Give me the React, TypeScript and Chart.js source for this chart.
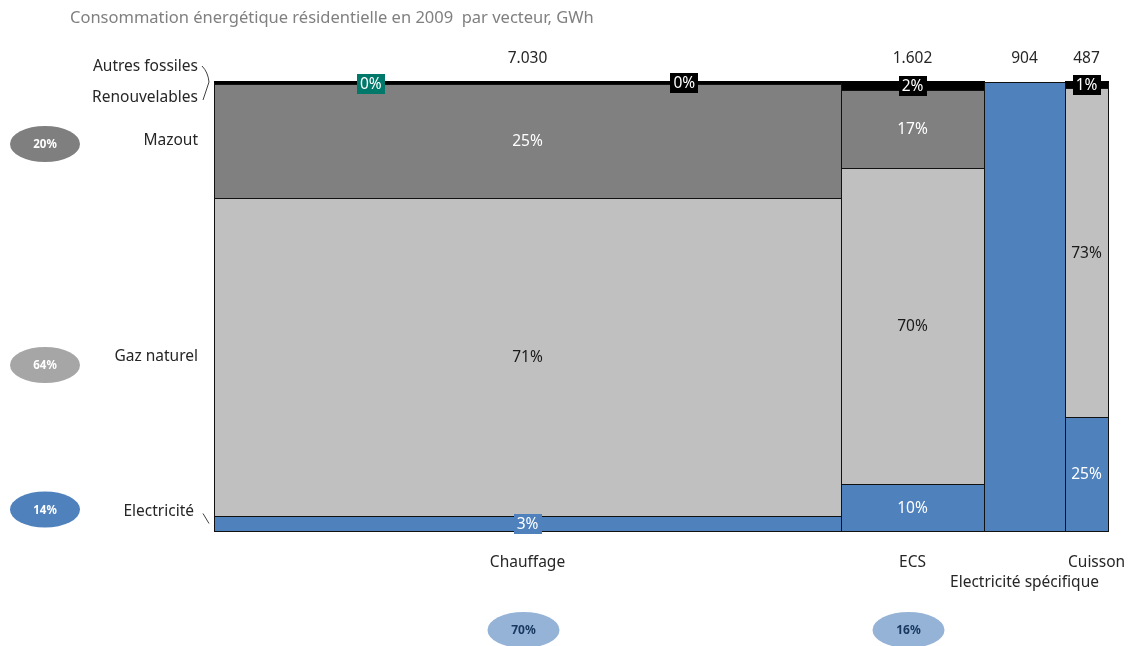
import { useEffect, useRef } from 'react';
import { Chart, registerables } from 'chart.js';

Chart.register(...registerables);

// ---------- data ----------
const title = 'Consommation énergétique résidentielle en 2009  par vecteur, GWh';
const categories = ['Chauffage', 'ECS', 'Electricité spécifique', 'Cuisson'];
const totals = [7030, 1602, 904, 487]; // GWh per usage (column widths)
// series, stacked from bottom to top, % share within each usage
const vectorNames = ['Electricité', 'Gaz naturel', 'Mazout', 'Renouvelables', 'Autres fossiles'];
const electricite = [3.4, 10.4, 100, 25.4];
const gazNaturel = [70.7, 70.4, 0, 73.2];
const mazout = [25.4, 17.4, 0, 0];
const renouvelables = [0.1, 0, 0, 0];
const autresFossiles = [0.4, 1.8, 0, 1.4];
// overall shares
const vectorShares = [14, 64, 20]; // Electricité, Gaz naturel, Mazout
const usageShares = [70, 16]; // Chauffage, ECS

// ---------- styles ----------
const FONT = '"Noto Sans", "Open Sans", sans-serif';
const LABEL_FONT = `15.5px ${FONT}`;
const fills = ['#4F81BD', '#C0C0C0', '#808080', '#00796B', '#000000'];
const textColors = ['#FFFFFF', '#1A1A1A', '#FFFFFF', '#FFFFFF', '#FFFFFF'];
const leftEllipseFills = ['#4F81BD', '#A6A6A6', '#7F7F7F'];

const series = [electricite, gazNaturel, mazout, renouvelables, autresFossiles];
const grandTotal = totals.reduce((a, b) => a + b, 0);

const mekkoPlugin = {
  id: 'mekko',
  afterDraw(chart: any) {
    const ctx: CanvasRenderingContext2D = chart.ctx;
    const xs = chart.scales.x;
    const ys = chart.scales.y;
    const area = chart.chartArea;
    ctx.save();

    // title
    ctx.font = `16.5px ${FONT}`;
    ctx.fillStyle = '#808080';
    ctx.textAlign = 'left';
    ctx.textBaseline = 'middle';
    ctx.fillText(title, 70, 18);

    let start = 0;
    const chauffageCenters: number[] = [];
    const colCenters: number[] = [];
    const colRects: number[][] = [];
    totals.forEach((tot, c) => {
      const x0 = Math.round(xs.getPixelForValue(start));
      const x1 = Math.round(xs.getPixelForValue(start + tot));
      colRects.push([x0, x1]);
      colCenters.push((x0 + x1) / 2);
      let cum = 0;
      const segs: any[] = [];
      series.forEach((s, k) => {
        const v = s[c];
        if (v <= 0) return;
        const yb = Math.round(ys.getPixelForValue(cum));
        const yt = Math.round(ys.getPixelForValue(cum + v));
        segs.push({ k, v, yb, yt });
        cum += v;
      });
      segs.forEach((sg) => {
        ctx.fillStyle = fills[sg.k];
        ctx.fillRect(x0, sg.yt, x1 - x0, sg.yb - sg.yt);
      });
      ctx.strokeStyle = '#111111';
      ctx.lineWidth = 1;
      segs.forEach((sg) => {
        ctx.strokeRect(x0 + 0.5, sg.yt + 0.5, x1 - x0, sg.yb - sg.yt);
      });
      ctx.fillStyle = '#000000';
      if (segs.length > 1) ctx.fillRect(x0, Math.round(ys.getPixelForValue(100)) - 1, x1 - x0 + 1, 2);

      if (c === 0) segs.forEach((sg) => (chauffageCenters[sg.k] = (sg.yb + sg.yt) / 2));

      // labels
      const thin = segs.filter((sg) => sg.yb - sg.yt < 12 && sg.v < 100);
      let thinIdx = 0;
      segs.forEach((sg) => {
        if (sg.v >= 100) return;
        const txt = `${Math.round(sg.v)}%`;
        const yc = (sg.yb + sg.yt) / 2;
        ctx.font = LABEL_FONT;
        ctx.textAlign = 'center';
        ctx.textBaseline = 'middle';
        const isThin = sg.yb - sg.yt < 12;
        let xc = (x0 + x1) / 2;
        if (isThin && thin.length > 1) {
          xc = x0 + ((thinIdx * 2 + 1) / (thin.length * 2)) * (x1 - x0);
          thinIdx++;
        }
        if (sg.yb - sg.yt < 20) {
          const w = ctx.measureText(txt).width + 6;
          ctx.fillStyle = fills[sg.k];
          ctx.fillRect(Math.round(xc - w / 2), Math.round(yc - 10), Math.round(w), 20);
        }
        ctx.fillStyle = textColors[sg.k];
        ctx.fillText(txt, xc, yc + 1);
      });
      start += tot;
    });

    // column totals on top
    ctx.font = LABEL_FONT;
    ctx.fillStyle = '#262626';
    ctx.textAlign = 'center';
    ctx.textBaseline = 'middle';
    totals.forEach((t, c) => {
      ctx.fillText(t.toLocaleString('de-DE'), colCenters[c], area.top - 23);
    });

    // category labels below
    categories.forEach((name, c) => {
      if (c === categories.length - 1) {
        ctx.textAlign = 'left';
        ctx.fillText(name, colRects[c][0] + 3, area.bottom + 32);
      } else if (c === 2) {
        ctx.textAlign = 'center';
        ctx.fillText(name, colCenters[c], area.bottom + 52);
      } else {
        ctx.textAlign = 'center';
        ctx.fillText(name, colCenters[c], area.bottom + 32);
      }
    });

    // usage share ellipses at the bottom
    usageShares.forEach((p, c) => {
      const cx = colCenters[c] - 4;
      const cy = area.bottom + 99;
      ctx.beginPath();
      ctx.ellipse(cx, cy, 36, 18, 0, 0, Math.PI * 2);
      ctx.fillStyle = '#95B3D7';
      ctx.fill();
      ctx.font = `bold 12px ${FONT}`;
      ctx.fillStyle = '#17375E';
      ctx.textAlign = 'center';
      ctx.fillText(`${p}%`, cx, cy + 1);
    });

    // left vector labels
    ctx.font = LABEL_FONT;
    ctx.fillStyle = '#262626';
    ctx.textAlign = 'right';
    const lx = area.left - 16;
    const yMaz = chauffageCenters[2];
    const yGaz = chauffageCenters[1];
    const yEl = chauffageCenters[0] - 12;
    ctx.fillText(vectorNames[2], lx, yMaz);
    ctx.fillText(vectorNames[1], lx, yGaz);
    ctx.fillText(vectorNames[0], lx - 4, yEl);
    ctx.fillText(vectorNames[4], lx, area.top - 15);
    ctx.fillText(vectorNames[3], lx, area.top + 16);

    // brace and tick
    ctx.strokeStyle = '#404040';
    ctx.lineWidth = 1;
    ctx.beginPath();
    ctx.moveTo(area.left - 12, area.top - 16);
    ctx.quadraticCurveTo(area.left - 6, area.top - 10, area.left - 5, area.top);
    ctx.lineTo(area.left - 11, area.top + 18);
    ctx.stroke();
    ctx.beginPath();
    ctx.moveTo(area.left - 11, yEl + 2);
    ctx.lineTo(area.left - 5, yEl + 12);
    ctx.stroke();

    // vector share ellipses at the left
    const ellY = [yEl - 2, yGaz + 8, yMaz + 3];
    vectorShares.forEach((p, k) => {
      const cx = 45;
      const cy = ellY[k];
      ctx.beginPath();
      ctx.ellipse(cx, cy, 35, 18, 0, 0, Math.PI * 2);
      ctx.fillStyle = leftEllipseFills[k];
      ctx.fill();
      ctx.font = `bold 11.5px ${FONT}`;
      ctx.fillStyle = '#FFFFFF';
      ctx.textAlign = 'center';
      ctx.fillText(`${p}%`, cx, cy + 1);
    });

    ctx.restore();
  },
};

export default function App() {
  const ref = useRef<HTMLCanvasElement>(null);
  useEffect(() => {
    document.body.style.margin = '0';
    const canvas = ref.current!;
    const chart = new Chart(canvas, {
      type: 'scatter',
      data: { datasets: [{ data: [] }] },
      options: {
        animation: false,
        responsive: false,
        devicePixelRatio: 1,
        layout: { padding: { left: 214, right: 36, top: 82, bottom: 115 } },
        plugins: {
          legend: { display: false },
          tooltip: { enabled: false },
        },
        scales: {
          x: { type: 'linear', min: 0, max: grandTotal, display: false },
          y: { type: 'linear', min: 0, max: 100, display: false },
        },
      },
      plugins: [mekkoPlugin],
    });
    return () => chart.destroy();
  }, []);
  return (
    <div style={{ width: 1144, height: 646, background: '#FFFFFF' }}>
      <canvas ref={ref} width={1144} height={646} style={{ display: 'block' }} />
    </div>
  );
}
